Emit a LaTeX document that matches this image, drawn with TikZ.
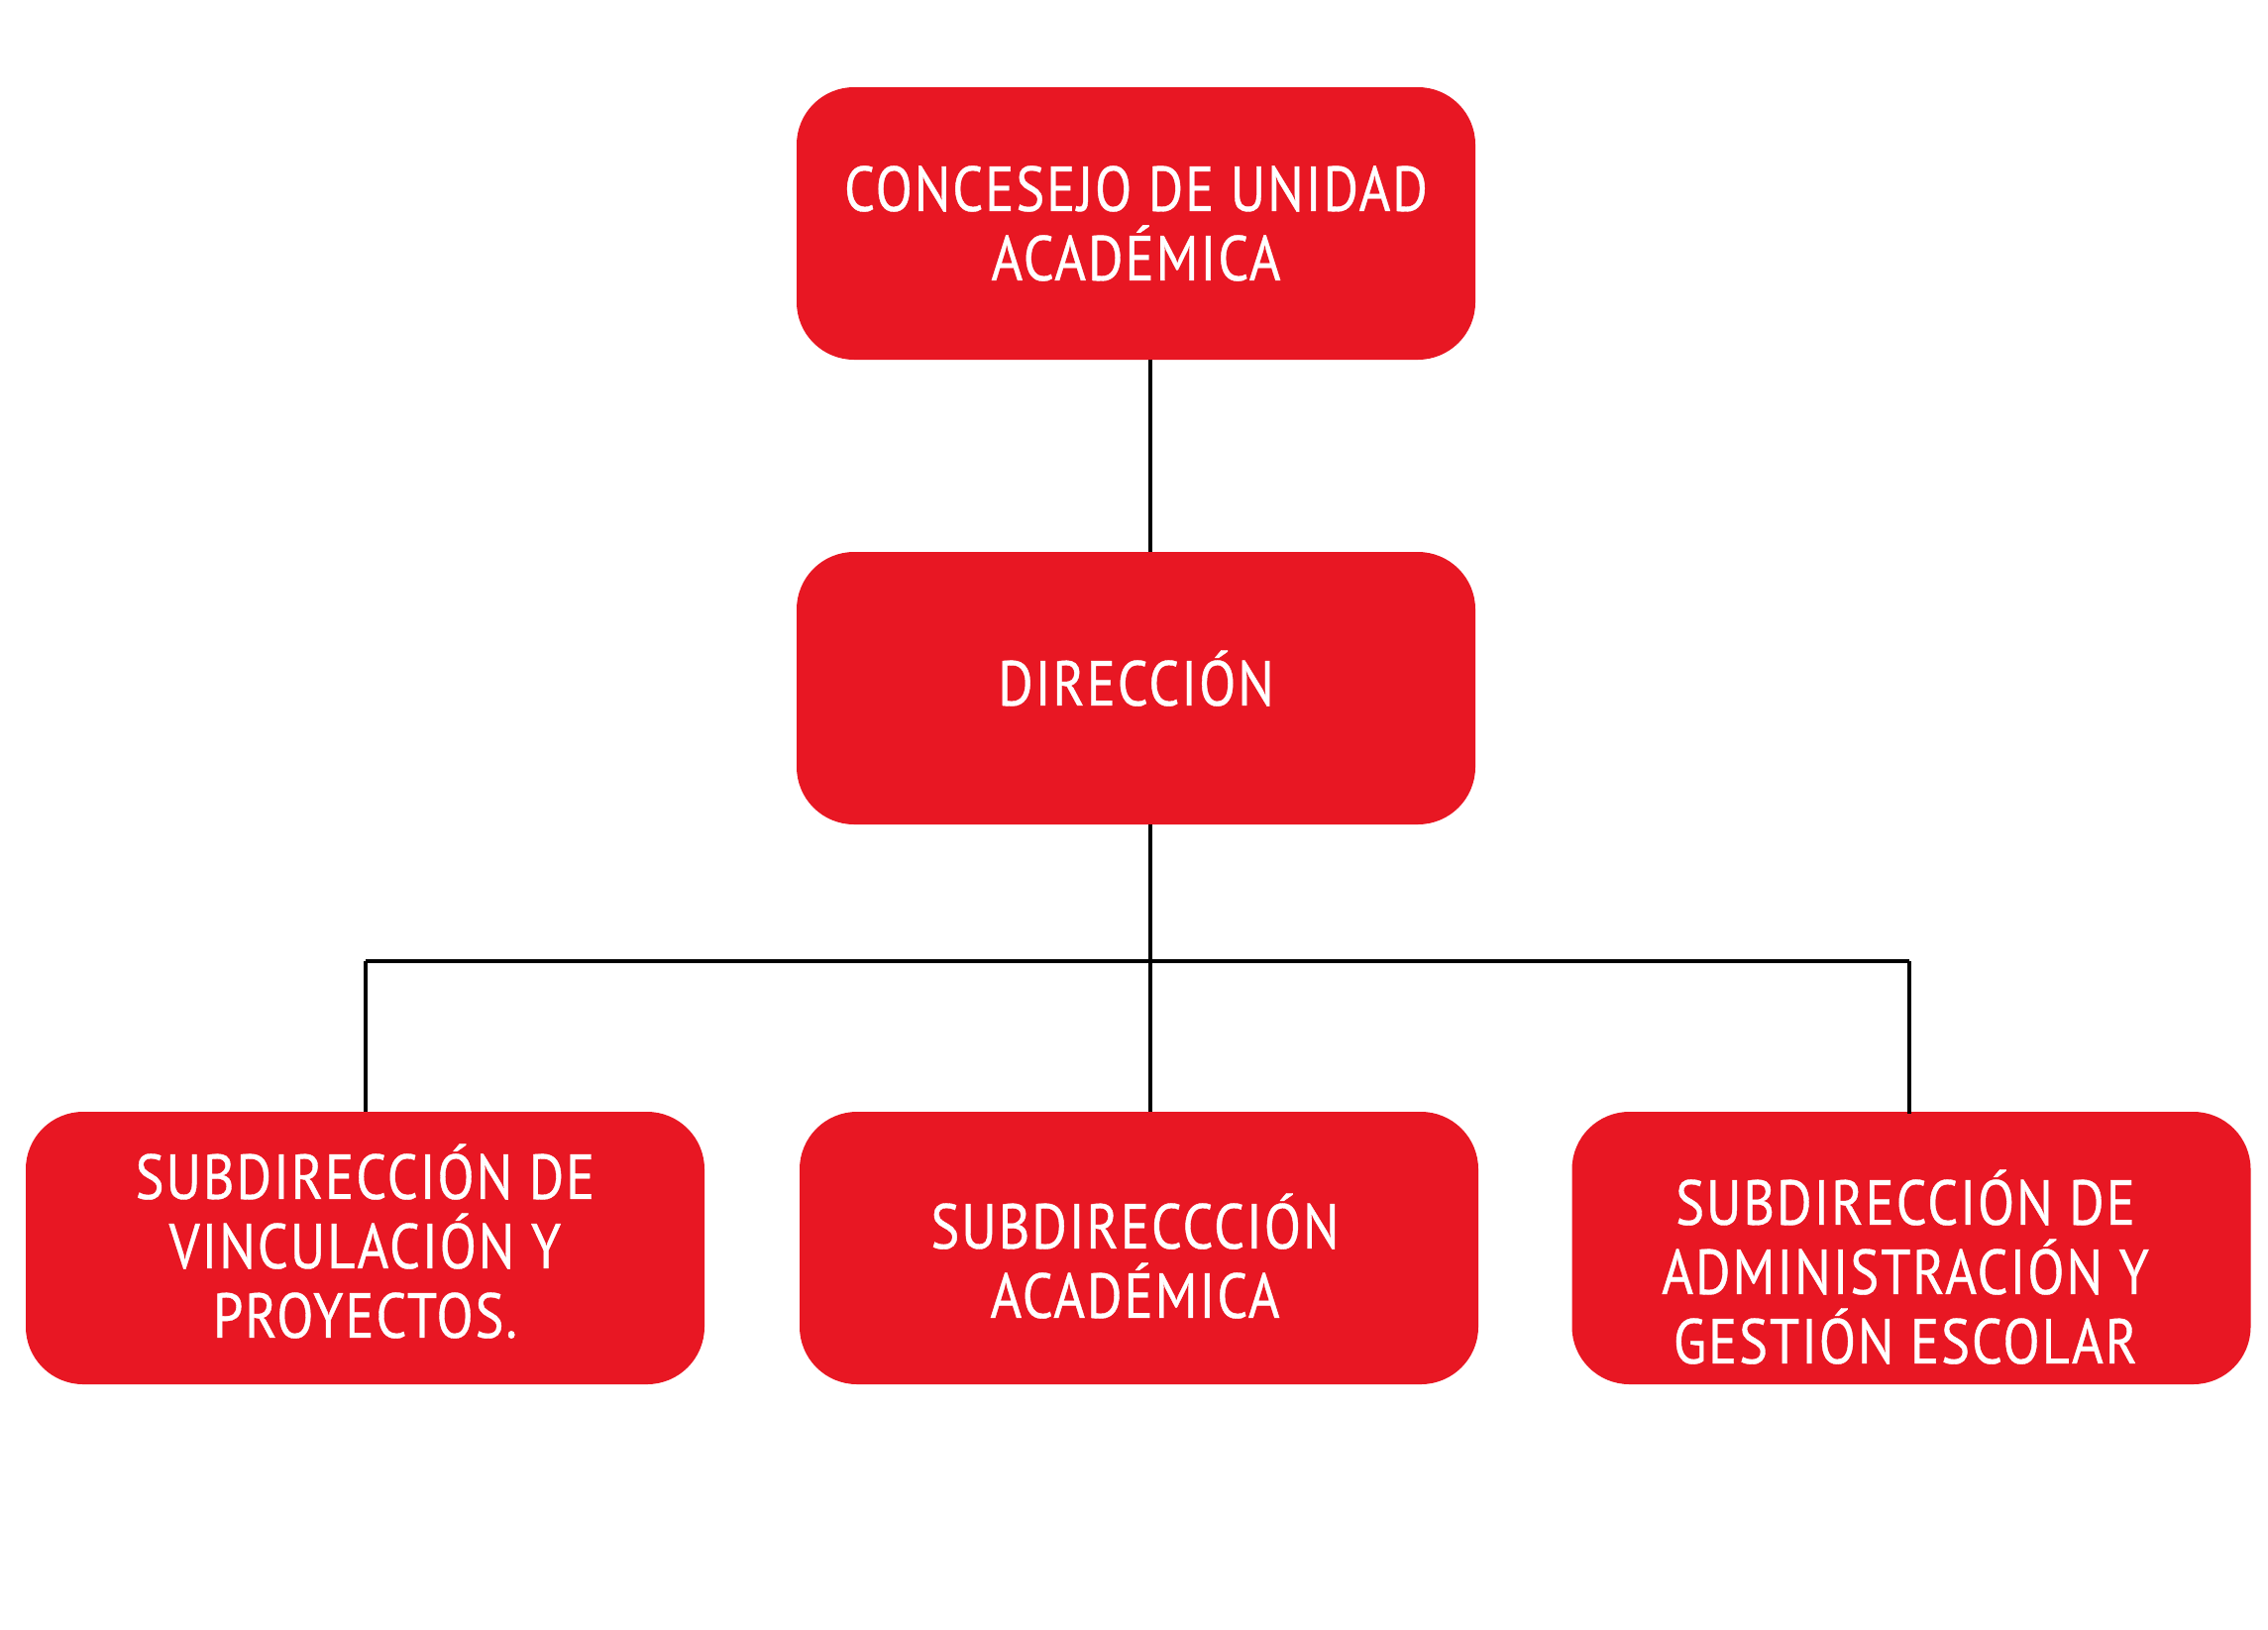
\documentclass[tikz,border=0pt]{standalone}
\usepackage{fontspec}
\setmainfont{PT Sans}[FakeStretch=0.85,LetterSpace=3,FakeBold=0.6]
\definecolor{boxred}{HTML}{E81723}
\begin{document}
\begin{tikzpicture}[x=1pt,y=-1pt,
  orgbox/.style={draw=none,fill=boxred,rounded corners=58pt,minimum width=685pt,minimum height=275pt,inner sep=0pt},
  orgtext/.style={text=white,font=\fontsize{64}{70}\selectfont,align=center,inner sep=0pt},
  conn/.style={draw=black,line width=4.5pt}]
\useasboundingbox (0,0) rectangle (2289,1644);
\fill[white] (0,0) rectangle (2289,1644);
\node[orgbox] (top) at (1146.5,225.5) {};
\node[orgbox] (dir) at (1146.5,694.5) {};
\node[orgbox] (left) at (368.5,1259.5) {};
\node[orgbox] (mid) at (1149.5,1259.5) {};
\node[orgbox] (right) at (1929,1259.5) {};
\node[orgtext] (ttop) at (top.center) {CONCESEJO DE UNIDAD\\ACADÉMICA};
\node[orgtext] (tdir) at ([yshift=10pt]dir.center) {DIRECCIÓN};
\node[orgtext] (tleft) at ([yshift=7pt]left.center) {SUBDIRECCIÓN DE\\VINCULACIÓN Y\\PROYECTOS.};
\node[orgtext] (tmid) at ([yshift=-8pt,xshift=-4pt]mid.center) {SUBDIRECCCIÓN\\ACADÉMICA};
\node[orgtext] (tright) at ([yshift=-19pt,xshift=-6pt]right.center) {SUBDIRECCIÓN DE\\ADMINISTRACIÓN Y\\GESTIÓN ESCOLAR};
\coordinate (j) at (1161,970);
\coordinate (jl) at (369,970);
\coordinate (jr) at (1927,970);
\draw[conn] (1161,0 |- top.south) -- (1161,0 |- dir.north);
\draw[conn] (1161,0 |- dir.south) -- (1161,0 |- mid.north);
\draw[conn] (jl) -- (jr);
\draw[conn] (jl) -- (jl |- left.north);
\draw[conn] (jr) -- ([yshift=-2pt]jr |- right.north);
\end{tikzpicture}
\end{document}
